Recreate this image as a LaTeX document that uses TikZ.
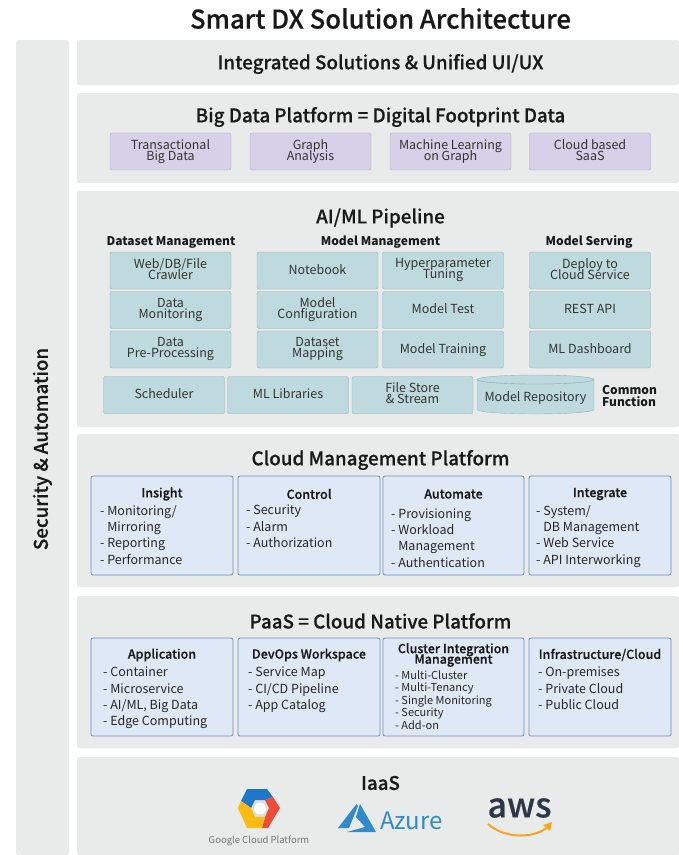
\documentclass[tikz,border=0pt]{standalone}
\usepackage{fontspec}
\setmainfont{Noto Sans CJK KR}
\newfontfamily\mediumfont[FakeBold=0.4]{Noto Sans CJK KR Medium}
\definecolor{panelgray}{HTML}{E9EBEA}
\definecolor{lilacfill}{HTML}{D6D0E8}
\definecolor{lilacline}{HTML}{A9A3C6}
\definecolor{tealfill}{HTML}{BFDADE}
\definecolor{tealline}{HTML}{8FB4B8}
\definecolor{bluefill}{HTML}{DFE8F6}
\definecolor{blueline}{HTML}{6F8FC4}
\definecolor{azureblue}{HTML}{2F8BCB}
\definecolor{awsnavy}{HTML}{2B3648}
\definecolor{awsorange}{HTML}{F5A623}
\definecolor{gblue}{HTML}{1F77C9}
\definecolor{gred}{HTML}{EE4B38}
\definecolor{gyellow}{HTML}{FCBA12}
\definecolor{gring}{HTML}{DCDEE0}
\lineskiplimit=-100pt
\newcommand{\boxstrut}{\rule[-3.5pt]{0pt}{14pt}}
\tikzset{
  panel/.style={fill=panelgray,rounded corners=2pt},
  paneltitle/.style={font=\fontsize{18.8}{22}\selectfont\mediumfont,text=black!90},
  grouptitle/.style={font=\fontsize{12}{14}\selectfont\bfseries,text=black!90},
  smallbox/.style={draw=#1line,fill=#1fill,rounded corners=2pt,minimum width=121pt,minimum height=37pt,
    inner sep=0pt,align=center,font=\fontsize{12.5}{11.3}\selectfont,text=black!80,
    execute at begin node=\boxstrut,execute at end node=\boxstrut},
  listbox/.style={draw=blueline,fill=bluefill,rounded corners=2pt,thick,inner sep=0pt},
  boxhead/.style={font=\fontsize{12.5}{10.5}\selectfont\mediumfont,text=black!90},
  boxlist/.style={anchor=north west,inner sep=0pt,align=left,font=\fontsize{12.5}{16.3}\selectfont,text=black!85},
}
\begin{document}
\begin{tikzpicture}[x=1pt,y=-1pt]
\useasboundingbox (0,0) rectangle (679,855);
% panels
\fill[panel] (16,40) rectangle (69,855);
\fill[panel] (77,40) rectangle (679,85);
\fill[panel] (77,93) rectangle (679,183);
\fill[panel] (77,191) rectangle (679,427);
\fill[panel] (77,434) rectangle (679,587);
\fill[panel] (77,596) rectangle (679,748);
\fill[panel] (77,757) rectangle (679,855);
% titles
\node[font=\fontsize{25.7}{30}\selectfont\mediumfont,text=black!90] (title) at (380.5,18.5) {Smart DX Solution Architecture};
\node[paneltitle,rotate=90] (security) at (42.5,449) {Security \& Automation};
\node[paneltitle] (unified) at (380.5,64) {Integrated Solutions \& Unified UI/UX};
\node[paneltitle] (bigdata) at (380.5,117) {Big Data Platform = Digital Footprint Data};
\node[paneltitle] (pipeline) at (380.5,218) {AI/ML Pipeline};
\node[paneltitle] (cloudmgmt) at (380.5,460) {Cloud Management Platform};
\node[paneltitle] (paas) at (380.5,621) {PaaS = Cloud Native Platform};
\node[paneltitle] (iaas) at (380.5,783) {IaaS};
% big data
\node[smallbox=lilac] (transactional) at (170.5,151.5) {Transactional\\Big Data};
\node[smallbox=lilac] (graph) at (310.5,151.5) {Graph\\Analysis};
\node[smallbox=lilac] (learning) at (450.5,151.5) {Machine Learning\\on Graph};
\node[smallbox=lilac] (saas) at (590,151.5) {Cloud based\\SaaS};
% pipeline
\node[grouptitle] (dataset) at (171,242) {Dataset Management};
\node[grouptitle] (model) at (380.5,242) {Model Management};
\node[grouptitle] (serving) at (589,242) {Model Serving};
\node[smallbox=teal] (crawler) at (170.5,270.5) {Web/DB/File\\Crawler};
\node[smallbox=teal] (monitoring) at (170.5,310) {Data\\Monitoring};
\node[smallbox=teal] (preproc) at (170.5,349.5) {Data\\Pre-Processing};
\node[smallbox=teal] (notebook) at (317.5,270.5) {Notebook};
\node[smallbox=teal] (config) at (317.5,310) {Model\\Configuration};
\node[smallbox=teal] (mapping) at (317.5,349.5) {Dataset\\Mapping};
\node[smallbox=teal] (tuning) at (443,270.5) {Hyperparameter\\Tuning};
\node[smallbox=teal] (test) at (443,310) {Model Test};
\node[smallbox=teal] (training) at (443,349.5) {Model Training};
\node[smallbox=teal] (deploy) at (590,270.5) {Deploy to\\Cloud Service};
\node[smallbox=teal] (rest) at (590,310) {REST API};
\node[smallbox=teal] (dashboard) at (590,349.5) {ML Dashboard};
\node[smallbox=teal] (scheduler) at (164,395) {Scheduler};
\node[smallbox=teal] (libraries) at (288,395) {ML Libraries};
\node[smallbox=teal] (filestore) at (412.5,395) {File Store\\\& Stream};
\draw[draw=tealline,fill=tealfill] (477,379.5) arc[start angle=180,end angle=360,x radius=58.5,y radius=-4.5]
  -- (594,409.5) arc[start angle=0,end angle=-180,x radius=58.5,y radius=-4.5] -- cycle;
\draw[draw=tealline,fill=tealfill] (535.5,379.5) ellipse[x radius=58.5,y radius=4.5];
\node[font=\fontsize{12.5}{14}\selectfont,text=black!80] (repository) at (535.5,398) {Model Repository};
\node[font=\fontsize{12}{11.5}\selectfont\bfseries,text=black!90,align=left,anchor=west,inner sep=0pt] (common) at (602,396) {Common\\Function};
% cloud management
\node[listbox,minimum width=142pt,minimum height=99pt] (insight) at (162,525.5) {};
\node[listbox,minimum width=142pt,minimum height=99pt] (control) at (309,525.5) {};
\node[listbox,minimum width=141pt,minimum height=99pt] (automate) at (453.5,525.5) {};
\node[listbox,minimum width=142pt,minimum height=99pt] (integrate) at (600,525.5) {};
\node[boxhead] (insighthead) at (162,494) {Insight};
\node[boxhead] (controlhead) at (309,494) {Control};
\node[boxhead] (automatehead) at (453.5,494) {Automate};
\node[boxhead] (integratehead) at (600,494) {Integrate};
\node[boxlist] (insightlist) at (100,505) {- Monitoring/\\\hphantom{- }Mirroring\\- Reporting\\- Performance};
\node[boxlist] (controllist) at (246,505) {- Security\\- Alarm\\- Authorization};
\node[boxlist] (automatelist) at (391,508.5) {- Provisioning\\- Workload\\\hphantom{- }Management\\- Authentication};
\node[boxlist] (integratelist) at (536,505) {- System/\\\hphantom{- }DB Management\\- Web Service\\- API Interworking};
% paas
\node[listbox,minimum width=142pt,minimum height=98pt] (application) at (162,687) {};
\node[listbox,minimum width=142pt,minimum height=98pt] (devops) at (309,687) {};
\node[listbox,minimum width=141pt,minimum height=98pt] (cluster) at (453.5,687) {};
\node[listbox,minimum width=142pt,minimum height=98pt] (infra) at (600,687) {};
\node[boxhead] (applicationhead) at (162,655) {Application};
\node[boxhead] (devopshead) at (309,655) {DevOps Workspace};
\node[boxhead,align=center] (clusterhead) at (453.5,655) {Cluster Integration\\Management};
\node[boxhead] (infrahead) at (600,655) {Infrastructure/Cloud};
\node[boxlist] (applicationlist) at (103,667) {- Container\\- Microservice\\- AI/ML, Big Data\\- Edge Computing};
\node[boxlist] (devopslist) at (248,667) {- Service Map\\- CI/CD Pipeline\\- App Catalog};
\node[boxlist,font=\fontsize{11}{12.5}\selectfont] (clusterlist) at (395,670.5) {- Multi-Cluster\\- Multi-Tenancy\\- Single Monitoring\\- Security\\- Add-on};
\node[boxlist] (infralist) at (538,667) {- On-premises\\- Private Cloud\\- Public Cloud};
% google logo
\fill[gring] (251,808) -- (255,800) -- (265,800) -- (269,808) -- (265,817) -- (255,817) -- cycle;
\fill[gblue] (241,801) -- (247,789) -- (267,789) -- (273,797) -- (265,800) -- (255,800) -- (251,808) -- cycle;
\fill[gred] (273,797) -- (280,808) -- (268,828) -- (262,828) -- (265,817) -- (269,808) -- (265,800) -- cycle;
\fill[gyellow] (238,808) -- (241,801) -- (251,808) -- (255,817) -- (265,817) -- (262,828) -- (247,828) -- cycle;
\fill[white] (260,808.5) circle (6);
\node[font=\fontsize{9.5}{12}\selectfont,text=black!55] (google) at (259,841) {Google Cloud Platform};
% azure logo
\fill[azureblue] (356.5,804) -- (338,828) -- (349,828) -- (358,806) -- cycle;
\fill[azureblue] (360,804) -- (376,832) -- (347,832) -- (365,827) -- (356,817) -- cycle;
\node[font=\fontsize{24}{28}\selectfont,text=azureblue,anchor=west,inner sep=0pt] (azure) at (380,821) {Azure};
% aws logo
\node[font=\fontsize{34}{36}\selectfont\mediumfont,text=awsnavy,inner sep=0pt] (aws) at (519.5,808) {aws};
\draw[awsorange,line width=2pt] (488,824) .. controls (505,839) and (535,839) .. (549,826);
\fill[awsorange] (543,825) -- (552,822) -- (550,831) -- cycle;
\end{tikzpicture}
\end{document}
